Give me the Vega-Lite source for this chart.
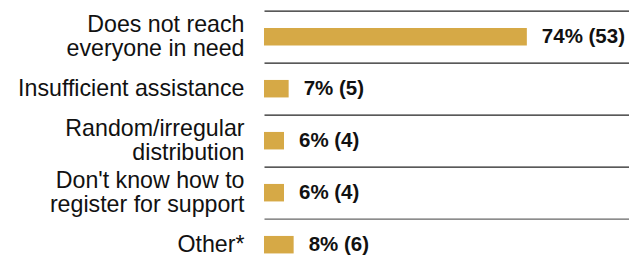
{
  "$schema": "https://vega.github.io/schema/vega-lite/v6.json",
  "width": 365,
  "height": 260,
  "autosize": {"type": "none"},
  "padding": {"left": 264, "top": 10.7, "right": 0, "bottom": 0},
  "background": "white",
  "config": {"view": {"stroke": null}, "font": "Liberation Sans"},
  "data": {
    "values": [
      {"reason": "Does not reach|everyone in need", "pct": 73.6, "label": "74% (53)"},
      {"reason": "Insufficient assistance", "pct": 6.9, "label": "7% (5)"},
      {"reason": "Random/irregular|distribution", "pct": 5.6, "label": "6% (4)"},
      {"reason": "Don't know how to|register for support", "pct": 5.6, "label": "6% (4)"},
      {"reason": "Other*", "pct": 8.3, "label": "8% (6)"}
    ]
  },
  "encoding": {
    "y": {
      "field": "reason",
      "type": "nominal",
      "sort": null,
      "scale": {"paddingInner": 0, "paddingOuter": 0},
      "axis": {
        "title": null,
        "domain": false,
        "ticks": false,
        "grid": true,
        "bandPosition": 0,
        "gridColor": {"condition": {"test": "datum.value == 'Other*'", "value": "#666666"}, "value": "#222222"},
        "gridWidth": 1.3,
        "labelExpr": "split(datum.value, '|')",
        "labelFont": "Liberation Sans",
        "labelFontSize": 23.2,
        "labelLineHeight": 24,
        "labelOffset": {"condition": {"test": "indexof(datum.value, '|') >= 0", "value": -12}, "value": 0},
        "labelColor": "#111111",
        "labelPadding": 20,
        "labelLimit": 300
      }
    },
    "x": {
      "field": "pct",
      "type": "quantitative",
      "scale": {"domain": [0, 102.2]},
      "axis": null
    }
  },
  "layer": [
    {"mark": {"type": "bar", "color": "#D6A946", "size": 17.5}},
    {
      "mark": {"type": "text", "align": "left", "baseline": "middle", "dx": 15, "fontSize": 20.5, "fontWeight": "bold", "color": "#111111", "font": "Liberation Sans"},
      "encoding": {"text": {"field": "label"}}
    }
  ]
}
